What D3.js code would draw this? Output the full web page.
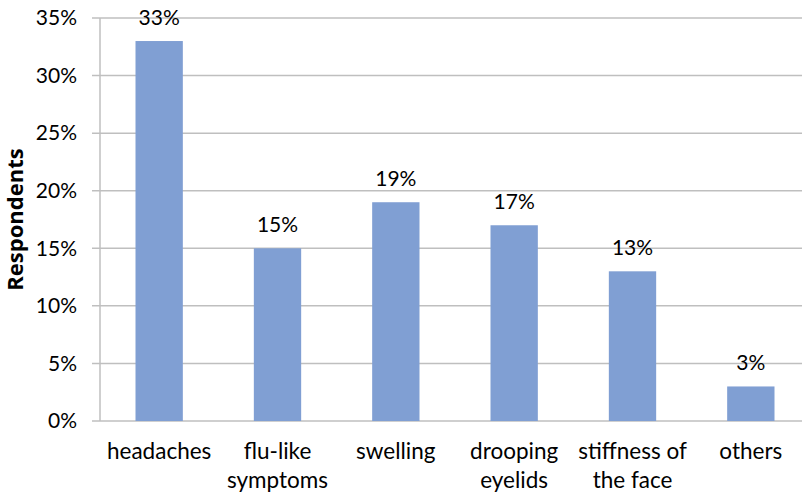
<!DOCTYPE html>
<html>
<head>
<meta charset="utf-8">
<script src="https://cdn.jsdelivr.net/npm/d3@7"></script>
<style>
  body { margin: 0; background: #fff; }
  svg { display: block; font-family: Lato, "Open Sans", sans-serif; }
</style>
</head>
<body>
<div id="chart"></div>
<script>
// Data
const categories = ["headaches", "flu-like symptoms", "swelling", "drooping eyelids", "stiffness of the face", "others"];
const values = [33, 15, 19, 17, 13, 3];
const yTicks = [0, 5, 10, 15, 20, 25, 30, 35];

const width = 802;
const height = 495;
const margin = { top: 18, right: -8, bottom: 74, left: 100 };
const fontSize = "21px";

const svg = d3.select("#chart").append("svg")
  .attr("width", width)
  .attr("height", height);

const x = d3.scaleBand()
  .domain(categories)
  .range([margin.left, width - margin.right])
  .paddingInner(0.6)
  .paddingOuter(0.3);

const y = d3.scaleLinear()
  .domain([0, 35])
  .range([height - margin.bottom, margin.top]);

// Gridlines
svg.append("g")
  .selectAll("line")
  .data(yTicks)
  .enter()
  .append("line")
  .attr("x1", margin.left - 8)
  .attr("x2", width - margin.right)
  .attr("y1", d => y(d))
  .attr("y2", d => y(d))
  .attr("stroke", "#bfbfbf")
  .attr("stroke-width", 1.5);

// Y axis line
svg.append("line")
  .attr("x1", margin.left)
  .attr("x2", margin.left)
  .attr("y1", y(35))
  .attr("y2", y(0))
  .attr("stroke", "#bfbfbf")
  .attr("stroke-width", 1.5);

// Y tick labels
svg.append("g")
  .selectAll("text")
  .data(yTicks)
  .enter()
  .append("text")
  .attr("x", 77)
  .attr("y", d => y(d))
  .attr("dy", "0.35em")
  .attr("text-anchor", "end")
  .style("font-size", fontSize)
  .attr("fill", "#000")
  .text(d => d + "%");

// Bars
svg.append("g")
  .selectAll("rect")
  .data(values)
  .enter()
  .append("rect")
  .attr("x", (d, i) => x(categories[i]))
  .attr("y", d => y(d))
  .attr("width", x.bandwidth())
  .attr("height", d => y(0) - y(d))
  .attr("fill", "#809fd3");

// Value labels
svg.append("g")
  .selectAll("text")
  .data(values)
  .enter()
  .append("text")
  .attr("x", (d, i) => x(categories[i]) + x.bandwidth() / 2)
  .attr("y", d => y(d) - 16)
  .attr("text-anchor", "middle")
  .style("font-size", fontSize)
  .attr("fill", "#000")
  .text(d => d + "%");

// Category labels, wrapped to two lines where needed
function wrapLines(label) {
  const words = label.split(" ");
  if (words.length === 1) return [label];
  if (words.length === 2) return words;
  return [words.slice(0, 2).join(" "), words.slice(2).join(" ")];
}

const catLabels = svg.append("g")
  .selectAll("text")
  .data(categories)
  .enter()
  .append("text")
  .attr("x", d => x(d) + x.bandwidth() / 2)
  .attr("y", 459)
  .attr("text-anchor", "middle")
  .style("font-size", "22.5px")
  .attr("fill", "#000");

catLabels.each(function (d) {
  const t = d3.select(this);
  wrapLines(d).forEach((line, i) => {
    t.append("tspan")
      .attr("x", x(d) + x.bandwidth() / 2)
      .attr("dy", i === 0 ? 0 : 29)
      .text(line);
  });
});

// Y axis title
svg.append("text")
  .attr("transform", "translate(23," + (y(17.5)) + ") rotate(-90)")
  .attr("text-anchor", "middle")
  .style("font-family", "'Open Sans', sans-serif")
  .style("font-size", "22px")
  .style("font-weight", "bold")
  .attr("fill", "#000")
  .text("Respondents");
</script>
</body>
</html>
